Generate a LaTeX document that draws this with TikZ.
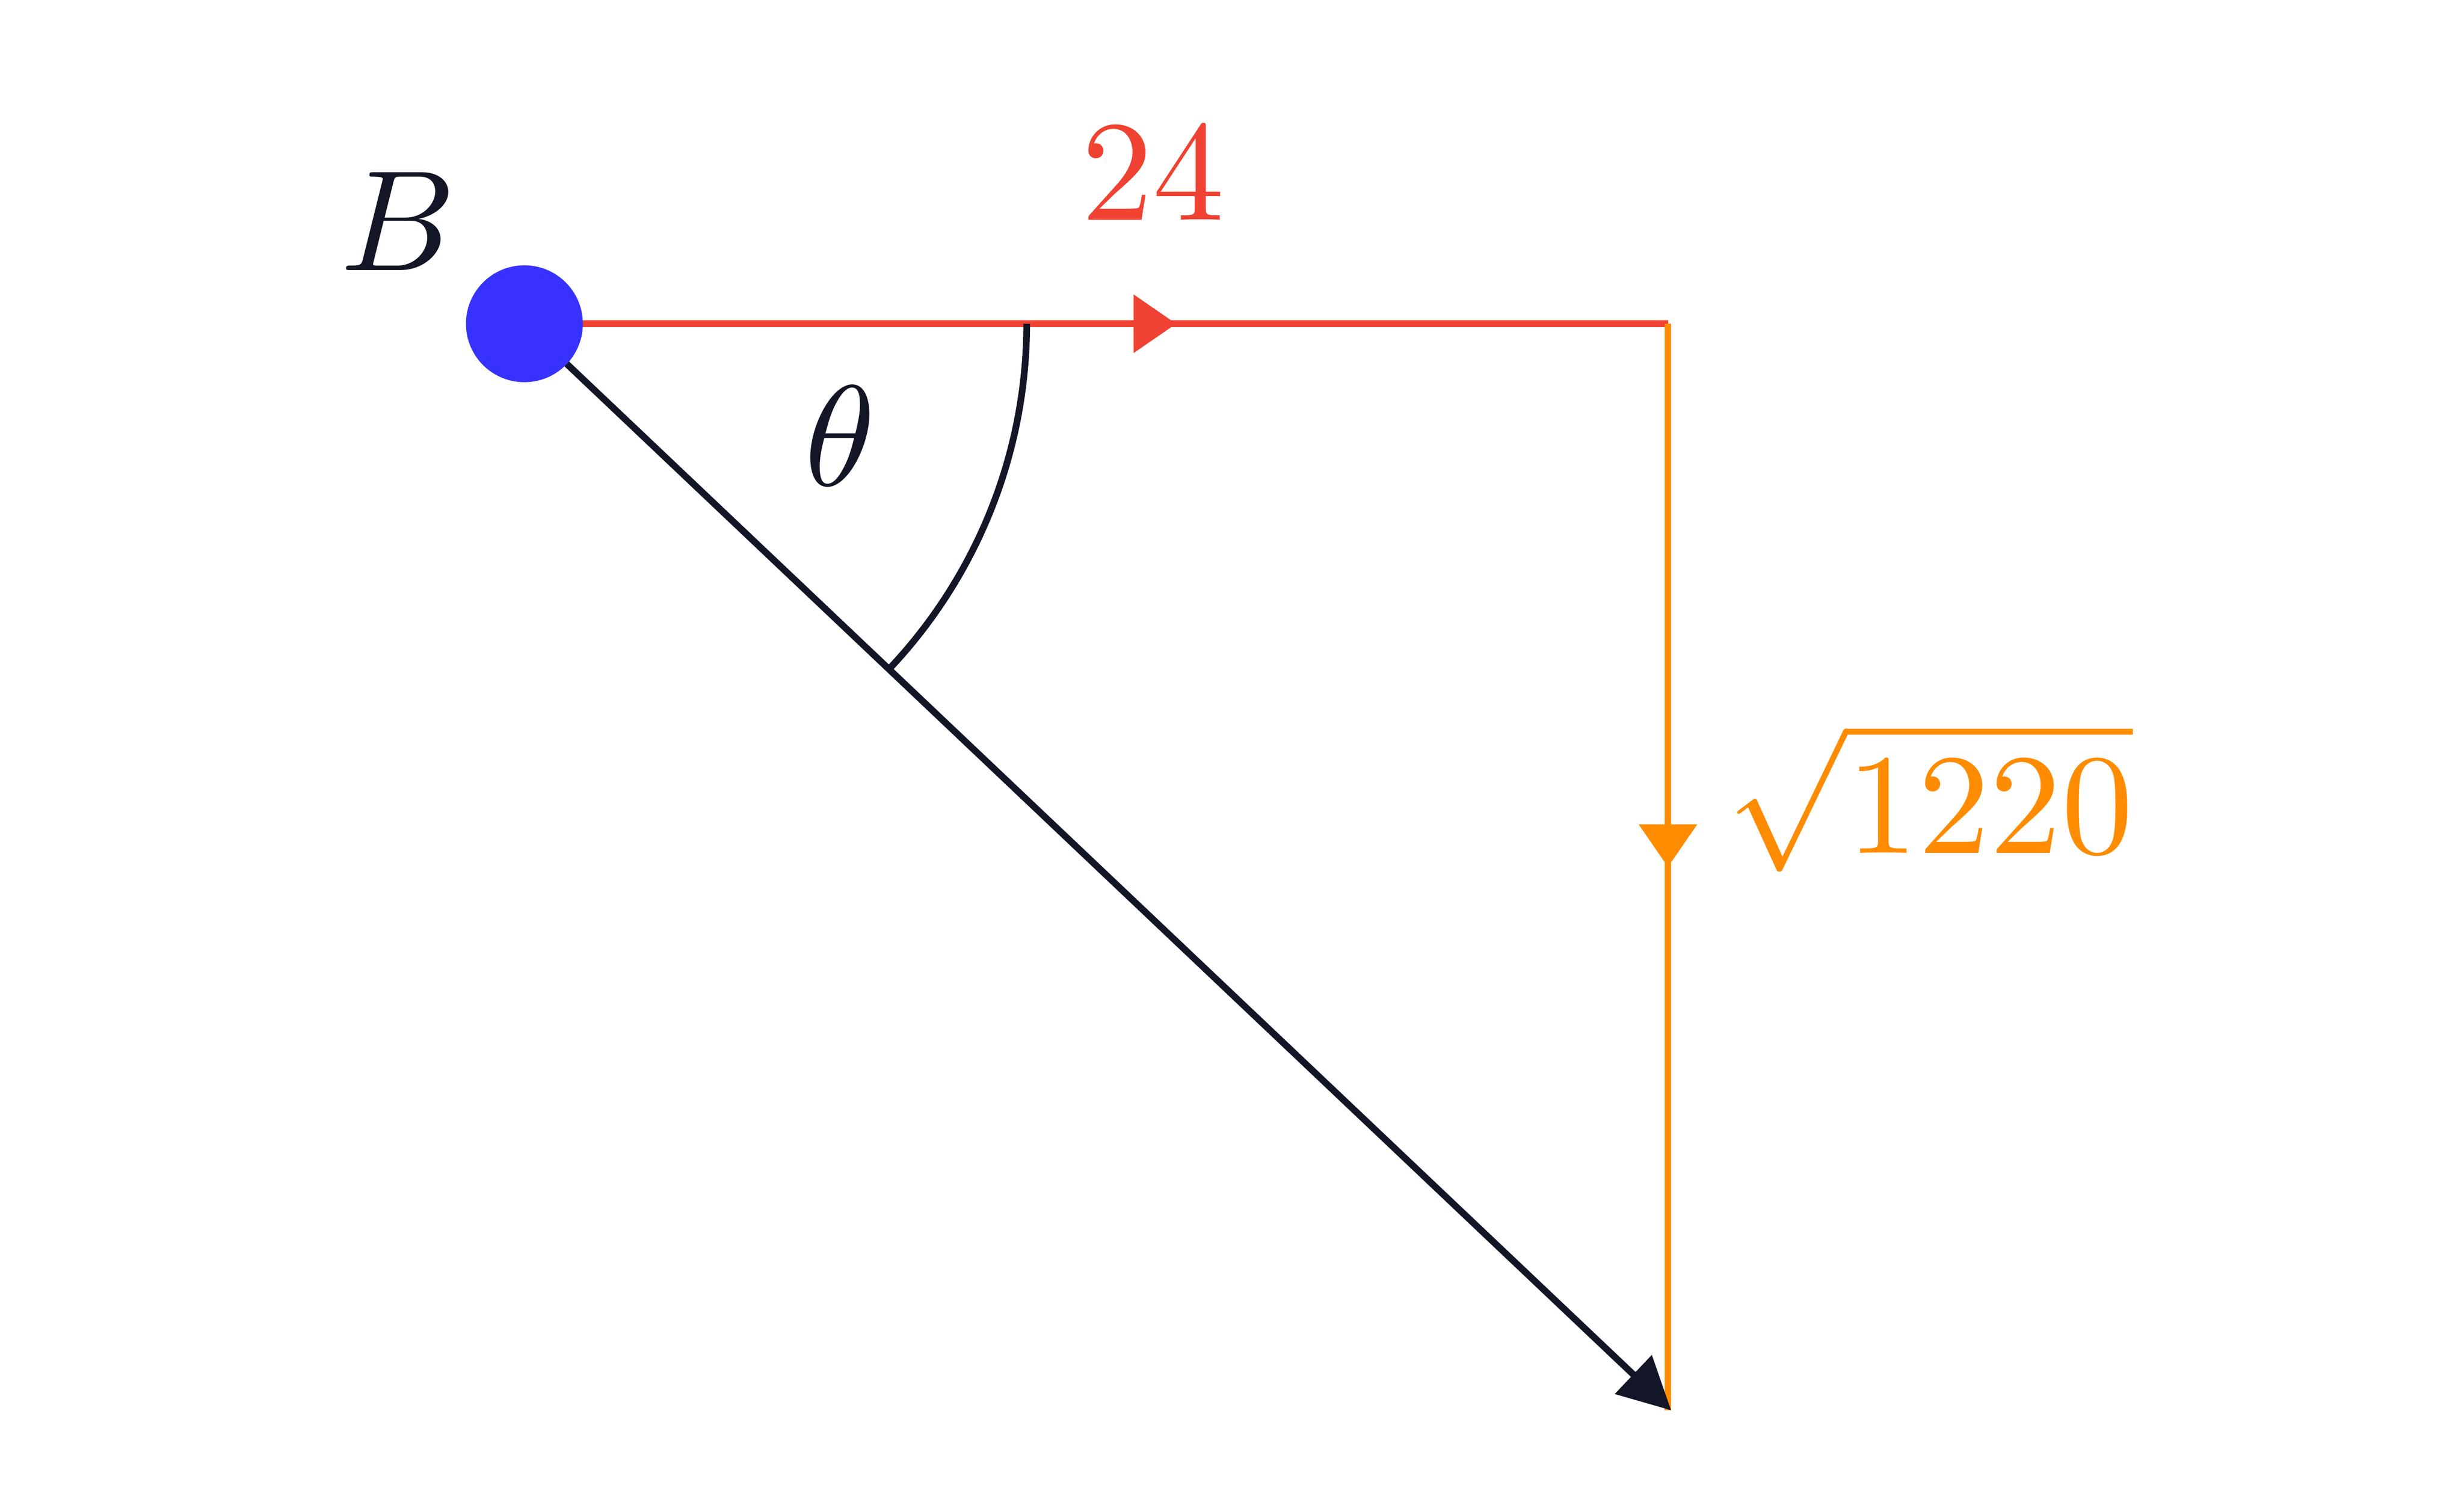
\documentclass[tikz,border=0pt]{standalone}
\usepackage{amsmath}
\usetikzlibrary{arrows.meta,decorations.markings}
\definecolor{vecred}{RGB}{240,66,50}
\definecolor{vecorange}{RGB}{255,140,0}
\definecolor{inkdark}{RGB}{18,22,38}
\definecolor{dotblue}{RGB}{55,50,255}
\begin{document}
\begin{tikzpicture}[x=1cm/60,y=-1cm/60,
    vecline/.style={line width=2pt},
    midarrow/.style={postaction={decorate},decoration={markings,
        mark=at position #1 with {\arrow{Triangle[length=0.45cm,width=0.6cm]}}}},
    biglabel/.style={scale=4.3}
]
    \useasboundingbox (0,0) rectangle (1560,944);
    % points
    \coordinate (start) at (332,205);
    \coordinate (corner) at (1056,205);
    \coordinate (tip) at (1058,893);
    % legs
    \draw[vecline, vecred, midarrow=0.57] (start) -- (corner);
    \draw[vecline, vecorange, midarrow=0.5] (corner) -- (1056,893);
    % resultant
    \draw[vecline, inkdark, -{Triangle[length=0.55cm,width=0.55cm]}] (start) -- (tip);
    % angle
    \draw[vecline, inkdark] (start) ++(0:318) arc[start angle=0, end angle=43.5, radius=318];
    \fill[dotblue] (start) circle[radius=37];
    % labels
    \node[biglabel, text=inkdark] (lblB) at (252,140) {$B$};
    \node[biglabel, text=vecred] (lbl24) at (730,110) {$24$};
    \node[biglabel, text=vecorange] (lblsqrt) at (1222,505) {$\sqrt{1220}$};
    \node[biglabel, text=inkdark] (lbltheta) at (532,276) {$\theta$};
\end{tikzpicture}
\end{document}
